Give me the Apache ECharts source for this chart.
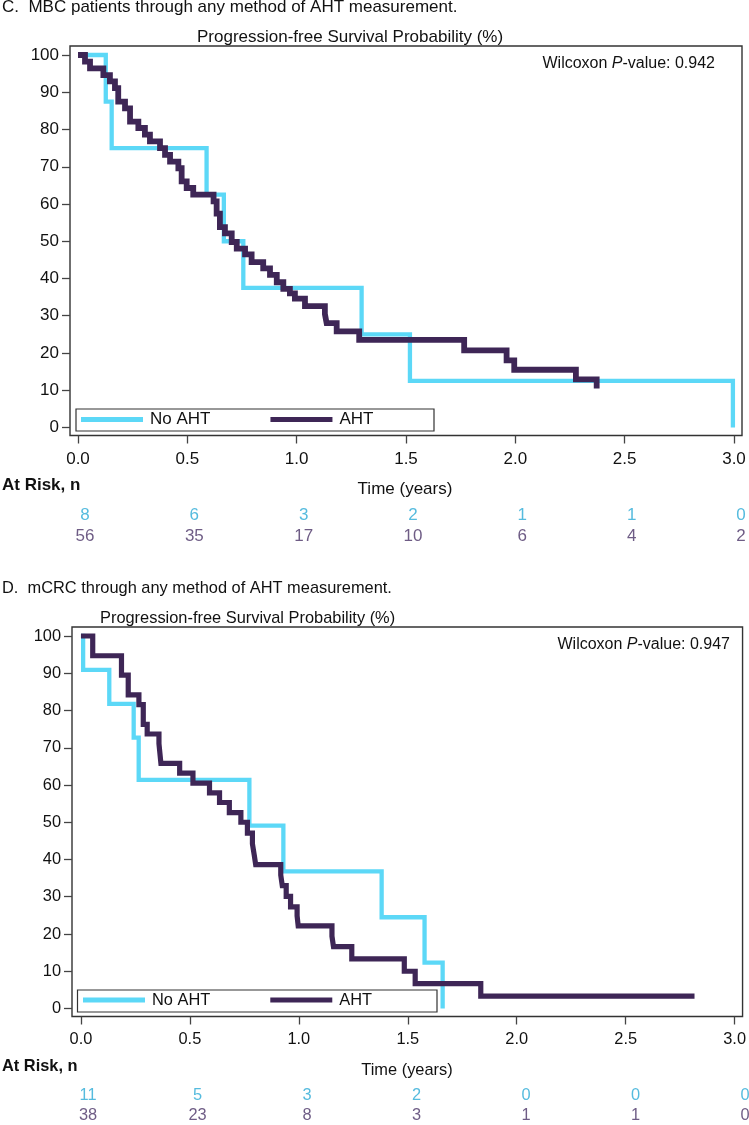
<!DOCTYPE html>
<html><head><meta charset="utf-8">
<script src="https://cdn.jsdelivr.net/npm/echarts@6/dist/echarts.min.js"></script>
<style>html,body{margin:0;padding:0;background:#fff}#c{width:749px;height:1125px}</style>
</head><body><div id="c"></div>
<script>
// ---- data ----
const timeTicks = [0, 0.5, 1, 1.5, 2, 2.5, 3];
const survTicks = [0, 10, 20, 30, 40, 50, 60, 70, 80, 90, 100];
const groups = ['No AHT', 'AHT'];

// C. MBC
const mbcNoAhtTime = [0, 0.127, 0.154, 0.588, 0.667, 0.756, 1.297, 1.518, 2.995];
const mbcNoAhtSurv = [100, 87.5, 75, 62.5, 50, 37.5, 25, 12.5, 0];
const mbcAhtTime = [0, 0.032, 0.055, 0.116, 0.146, 0.169, 0.184, 0.215, 0.238, 0.276, 0.306, 0.329, 0.375, 0.398, 0.421, 0.459, 0.474, 0.497, 0.527, 0.62, 0.634, 0.649, 0.672, 0.703, 0.726, 0.764, 0.794, 0.847, 0.878, 0.909, 0.939, 0.969, 0.992, 1.038, 1.129, 1.137, 1.183, 1.286, 1.766, 1.960, 1.995, 2.277, 2.372];
const mbcAhtSurv = [100, 98.2, 96.4, 94.6, 92.9, 91.1, 87.5, 85.7, 82.1, 80.4, 78.6, 76.8, 75.0, 73.2, 71.4, 69.6, 66.1, 64.3, 62.5, 60.7, 57.4, 53.8, 52.1, 49.8, 48.0, 46.5, 44.4, 42.7, 41.0, 39.0, 37.2, 36.0, 34.6, 32.6, 30.5, 28.0, 25.8, 23.5, 20.7, 18.0, 15.5, 12.9, 10.5];
const mbcRiskNoAht = [8, 6, 3, 2, 1, 1, 0];
const mbcRiskAht = [56, 35, 17, 10, 6, 4, 2];
const mbcPValue = '0.942';

// D. mCRC
const crcNoAhtTime = [0, 0.01, 0.13, 0.242, 0.265, 0.773, 0.929, 1.38, 1.577, 1.66];
const crcNoAhtSurv = [100, 90.9, 81.8, 72.7, 61.4, 49.1, 36.8, 24.5, 12.3, 0];
const crcAhtTime = [0, 0.054, 0.186, 0.217, 0.266, 0.286, 0.304, 0.358, 0.367, 0.453, 0.514, 0.59, 0.636, 0.681, 0.734, 0.764, 0.787, 0.795, 0.802, 0.917, 0.924, 0.942, 0.962, 0.992, 0.997, 1.152, 1.159, 1.243, 1.484, 1.534, 1.835, 2.816];
const crcAhtSurv = [100, 94.7, 89.5, 84.2, 81.6, 76.3, 73.7, 71.1, 65.8, 63.2, 60.5, 57.9, 55.3, 52.6, 50.0, 47.1, 44.2, 41.3, 38.6, 35.8, 33.0, 30.1, 27.3, 24.9, 22.2, 19.4, 16.6, 13.3, 10.0, 6.7, 3.3, 3.3];
const crcRiskNoAht = [11, 5, 3, 2, 0, 0, 0];
const crcRiskAht = [38, 23, 8, 3, 1, 1, 0];
const crcPValue = '0.947';

// ---- style ----
const FONT = '"Liberation Sans", Arial, Helvetica, sans-serif';
const CYAN = '#5CD8F7';
const DARK = '#3E2656';
const CYAN_TXT = '#2AAAD6';
const DARK_TXT = '#4A3366';
const INK = '#111111';

const option = {
  animation: false,
  backgroundColor: '#ffffff',
  grid: [], xAxis: [], yAxis: [], series: [], legend: [], graphic: []
};

function pairs(t, s) { return t.map((v, i) => [v, s[i]]); }

function addPanel(c) {
  const g = option.grid.length;
  const fs = c.fs;
  option.grid.push({ left: c.fl, top: c.oy + 46, width: c.fw, height: 389.5, show: true,
    borderColor: '#333', borderWidth: 1.4, backgroundColor: 'transparent', containLabel: false });
  option.grid.push({ left: c.fl, top: c.oy + 504, width: c.fw, height: 43.5, show: false });

  option.xAxis.push({ type: 'value', gridIndex: g, min: c.xMin, max: c.xMax,
    axisLine: { show: false, onZero: false }, splitLine: { show: false },
    axisTick: { show: true, inside: false, length: 8, customValues: timeTicks, lineStyle: { color: '#444', width: 1.3 } },
    axisLabel: { customValues: timeTicks, formatter: v => v.toFixed(1), margin: 15,
      fontSize: fs, fontFamily: FONT, color: INK } });
  option.xAxis.push({ type: 'value', gridIndex: g + 1, min: c.xMin, max: c.xMax, show: false });

  option.yAxis.push({ type: 'value', gridIndex: g, min: -2.15, max: 102.42,
    axisLine: { show: false, onZero: false }, splitLine: { show: false },
    axisTick: { show: true, inside: false, length: 8, customValues: survTicks, lineStyle: { color: '#444', width: 1.3 } },
    axisLabel: { customValues: survTicks, formatter: v => String(v), margin: 11,
      fontSize: fs, fontFamily: FONT, color: INK } });
  option.yAxis.push({ type: 'category', gridIndex: g + 1, data: groups, inverse: true, show: false });

  option.series.push({ name: 'No AHT', type: 'line', step: 'end', xAxisIndex: g, yAxisIndex: g,
    data: pairs(c.noTime, c.noSurv), symbol: 'none', showSymbol: false, z: 2,
    lineStyle: { color: CYAN, width: 4.3, join: 'miter', cap: 'butt' }, itemStyle: { color: CYAN } });
  option.series.push({ name: 'AHT', type: 'line', step: 'end', xAxisIndex: g, yAxisIndex: g,
    data: pairs(c.ahtTime, c.ahtSurv), symbol: 'none', showSymbol: false, z: 3,
    lineStyle: { color: DARK, width: c.darkW, join: 'miter', cap: 'butt' }, itemStyle: { color: DARK } });

  const riskRow = (vals, row, col, nm) => ({
    name: nm, type: 'scatter', xAxisIndex: g + 1, yAxisIndex: g + 1,
    data: timeTicks.map((t, i) => [t, groups[row], vals[i]]),
    symbolSize: 0, itemStyle: { color: 'transparent' }, silent: true,
    label: { show: true, position: 'inside', offset: [7, 0], formatter: p => String(p.value[2]),
      fontSize: fs, fontFamily: FONT, color: col }
  });
  option.series.push(riskRow(c.riskNo, 0, CYAN_TXT, 'risk-no-' + g));
  option.series.push(riskRow(c.riskAht, 1, DARK_TXT, 'risk-aht-' + g));

  option.legend.push({ data: groups, left: c.legendLeft, top: c.oy + 411, padding: 0, orient: 'horizontal',
    itemWidth: 62, itemHeight: 5, icon: 'rect', itemGap: 60, selectedMode: false,
    textStyle: { fontSize: fs, fontFamily: FONT, color: INK, padding: [0, 0, 0, 2] } });

  const txt = (text, x, y, extra) => Object.assign({ type: 'text', x: x, y: y, silent: true,
    style: Object.assign({ text: text, font: fs + 'px ' + FONT, fill: INK, align: 'left', verticalAlign: 'middle' }, extra || {}) });
  option.graphic.push({ type: 'rect', silent: true, z: 10,
    shape: { x: c.legendBox[0], y: c.legendBox[1], width: c.legendBox[2], height: c.legendBox[3] },
    style: { fill: 'none', stroke: '#333', lineWidth: 1.2 } });
  option.graphic.push(txt(c.title, 2, c.oy + 7));
  option.graphic.push(txt('Progression-free Survival Probability (%)', c.titleX, c.oy + 37));
  option.graphic.push(txt('{a|Wilcoxon }{b|P}{a|-value: ' + c.pval + '}', c.pvalRight, c.oy + 64, {
    align: 'right', rich: { a: { font: c.pfs + 'px ' + FONT, fill: INK },
      b: { font: 'italic ' + c.pfs + 'px ' + FONT, fill: INK } } }));
  option.graphic.push(txt('At Risk, n', 2, c.oy + 485, { font: 'bold ' + fs + 'px ' + FONT }));
  option.graphic.push(txt('Time (years)', c.timeX, c.oy + 489, { align: 'center' }));
}

addPanel({ oy: 0, fl: 70, fw: 672, xMin: -0.0366, xMax: 3.0366, fs: 17, pfs: 16, darkW: 5.8,
  title: 'C.  MBC patients through any method of AHT measurement.', pval: mbcPValue,
  noTime: mbcNoAhtTime, noSurv: mbcNoAhtSurv, ahtTime: mbcAhtTime, ahtSurv: mbcAhtSurv,
  riskNo: mbcRiskNoAht, riskAht: mbcRiskAht,
  legendBox: [76, 409, 358, 22], legendLeft: 81, titleX: 197, pvalRight: 715, timeX: 405 });

addPanel({ oy: 581, fl: 72, fw: 674, xMin: -0.0411, xMax: 3.0365, fs: 16.4, pfs: 16, darkW: 5.2,
  title: 'D.  mCRC through any method of AHT measurement.', pval: crcPValue,
  noTime: crcNoAhtTime, noSurv: crcNoAhtSurv, ahtTime: crcAhtTime, ahtSurv: crcAhtSurv,
  riskNo: crcRiskNoAht, riskAht: crcRiskAht,
  legendBox: [77.5, 990, 359.5, 22], legendLeft: 83, titleX: 100, pvalRight: 730, timeX: 407 });

const chart = echarts.init(document.getElementById('c'), null, { renderer: 'canvas' });
chart.setOption(option);
</script>
</body></html>
